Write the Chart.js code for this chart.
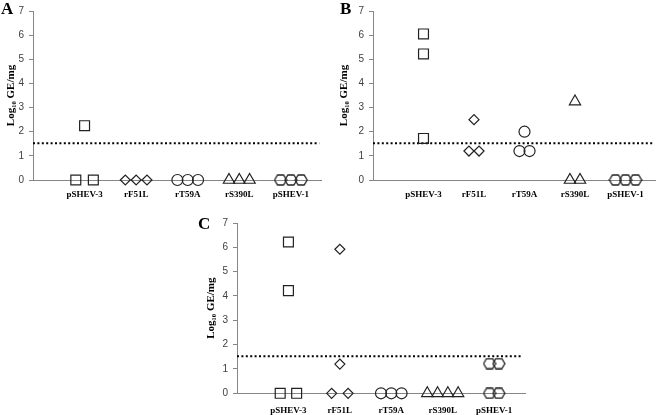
<!DOCTYPE html>
<html>
<head>
<meta charset="utf-8">
<script src="https://cdn.jsdelivr.net/npm/chart.js@4.4.1/dist/chart.umd.min.js"></script>
<style>
  html, body { margin: 0; padding: 0; background: #fff; }
  body { width: 664px; height: 415px; position: relative; overflow: hidden; }
  .panel { position: absolute; }
</style>
</head>
<body>
<div class="panel" style="left:0;top:0"><canvas id="chartA" width="330" height="205"></canvas></div>
<div class="panel" style="left:330px;top:0"><canvas id="chartB" width="334" height="205"></canvas></div>
<div class="panel" style="left:195px;top:212px"><canvas id="chartC" width="340" height="203"></canvas></div>
<script>
const categories = ["pSHEV-3", "rF51L", "rT59A", "rS390L", "pSHEV-1"];
const yTicks = [0, 1, 2, 3, 4, 5, 6, 7];
const cutoff = 1.52;

// panel A: values per category + horizontal jitter of each point
const valuesA = [[0, 2.25, 0], [0, 0, 0], [0, 0, 0], [0, 0, 0], [0, 0, 0]];
const jitterA = [[-0.17, 0, 0.17], [-0.21, 0, 0.21], [-0.2, 0, 0.2], [-0.2, 0, 0.2], [-0.2, 0, 0.2]];

// panel B
const valuesB = [[6.05, 5.22, 1.72], [2.5, 1.2, 1.2], [2.0, 1.2, 1.2], [3.25, 0, 0], [0, 0, 0]];
const jitterB = [[0, 0, 0], [0, -0.1, 0.1], [0, -0.1, 0.1], [0, -0.1, 0.1], [-0.2, 0, 0.2]];

// panel C
const valuesC = [[6.22, 4.22, 0, 0], [5.92, 1.2, 0, 0], [0, 0, 0], [0, 0, 0, 0], [1.22, 1.22, 0, 0]];
const jitterC = [[0, 0, -0.16, 0.16], [0, 0, -0.16, 0.16], [-0.2, 0, 0.2], [-0.3, -0.1, 0.1, 0.3], [-0.09, 0.09, -0.09, 0.09]];

function hexMarker() {
  const c = document.createElement("canvas");
  c.width = 14; c.height = 12;
  const g = c.getContext("2d");
  g.strokeStyle = "#222";
  g.lineWidth = 1.3;
  g.beginPath();
  g.moveTo(1, 6); g.lineTo(4, 1); g.lineTo(10, 1);
  g.lineTo(13, 6); g.lineTo(10, 11); g.lineTo(4, 11);
  g.closePath();
  g.stroke();
  return c;
}

const markerStyles = ["rect", "rectRot", "circle", "triangle", hexMarker()];
const markerRadius = [7, 5, 5.5, 6.5, 6];

const letterPlugin = {
  id: "panelLetter",
  afterDraw(chart, args, opts) {
    const ctx = chart.ctx;
    ctx.save();
    ctx.font = 'bold 17px "Liberation Serif"';
    ctx.fillStyle = "#000";
    ctx.fillText(opts.text, opts.x, opts.y);
    ctx.restore();
  }
};

function makePanel(id, letter, values, jitter, lay) {
  const datasets = categories.map((cat, i) => ({
    type: "scatter",
    label: cat,
    data: values[i].map((v, j) => ({ x: i + 1 + jitter[i][j], y: v })),
    pointStyle: markerStyles[i],
    pointRadius: markerRadius[i],
    pointBorderColor: "#222",
    pointBackgroundColor: "rgba(0,0,0,0)",
    pointBorderWidth: 1.2,
    clip: false
  }));

  datasets.push({
    type: "line",
    label: "cutoff",
    data: [{ x: 0, y: cutoff }, { x: 5.55, y: cutoff }],
    borderColor: "#000",
    borderWidth: 2,
    borderDash: [2, 2.4],
    pointRadius: 0,
    clip: false
  });

  new Chart(document.getElementById(id), {
    type: "scatter",
    data: { datasets },
    options: {
      responsive: false,
      animation: false,
      layout: { padding: lay.padding },
      plugins: {
        legend: { display: false },
        tooltip: { enabled: false },
        panelLetter: { text: letter, x: lay.lx, y: lay.ly }
      },
      scales: {
        x: {
          type: "linear",
          min: 0,
          max: 5.6,
          afterBuildTicks: s => { s.ticks = categories.map((c, i) => ({ value: i + 1 })); },
          afterFit: s => { s.height = lay.xHeight; },
          grid: { display: false, drawTicks: false },
          border: { display: true, color: "#868686", width: 1 },
          ticks: {
            autoSkip: false,
            maxRotation: 0,
            padding: lay.labelPad,
            color: "#000",
            font: { family: "Liberation Serif", size: 9, weight: "bold" },
            callback: v => categories[v - 1]
          }
        },
        y: {
          min: 0,
          max: 7,
          afterBuildTicks: s => { s.ticks = yTicks.map(v => ({ value: v })); },
          afterFit: s => { s.width = lay.yWidth; },
          grid: { display: true, drawOnChartArea: false, drawTicks: true, tickLength: 4, color: "#868686" },
          border: { display: true, color: "#868686", width: 1 },
          ticks: {
            padding: 5,
            color: "#404040",
            font: { family: "Liberation Sans", size: 10 }
          },
          title: {
            display: true,
            text: "Log\u2081\u2080 GE/mg",
            color: "#000",
            padding: 0,
            font: { family: "Liberation Serif", size: 11, weight: "bold" }
          }
        }
      }
    },
    plugins: [letterPlugin]
  });
}

makePanel("chartA", "A", valuesA, jitterA, {
  padding: { left: 4.5, top: 6, right: 8, bottom: 0 },
  yWidth: 28.5, xHeight: 25, labelPad: 9, lx: 1, ly: 14
});
makePanel("chartB", "B", valuesB, jitterB, {
  padding: { left: 8, top: 6, right: 6, bottom: 0 },
  yWidth: 35, xHeight: 25, labelPad: 9, lx: 10, ly: 14
});
makePanel("chartC", "C", valuesC, jitterC, {
  padding: { left: 9.5, top: 9, right: 10, bottom: 0 },
  yWidth: 32.5, xHeight: 21.7, labelPad: 12, lx: 3, ly: 17
});
</script>
</body>
</html>
